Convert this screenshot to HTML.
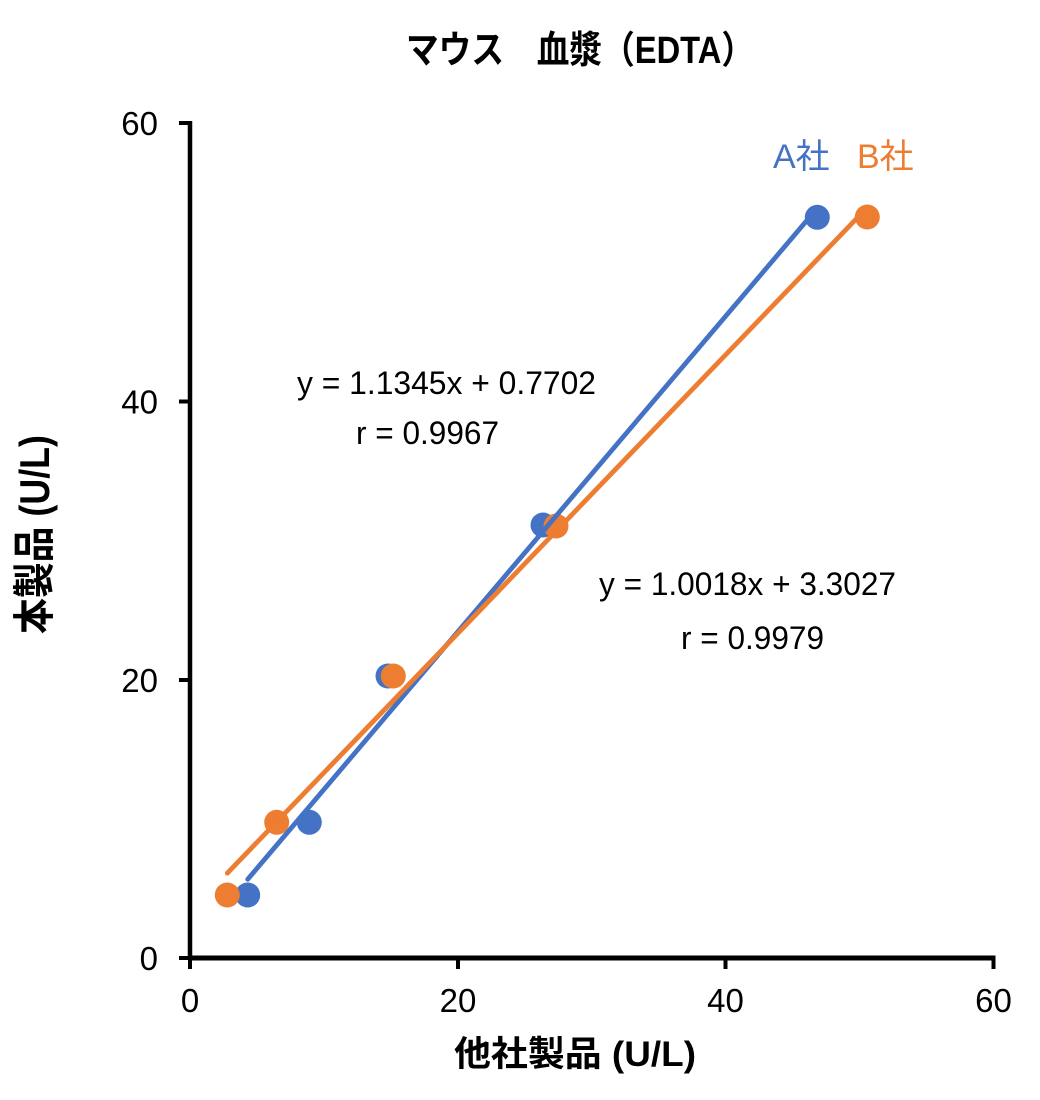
<!DOCTYPE html>
<html>
<head>
<meta charset="utf-8">
<style>
html,body{margin:0;padding:0;background:#fff;}
svg{display:block;}
text{font-family:"Liberation Sans","Noto Sans CJK JP",sans-serif;}
</style>
</head>
<body>
<svg width="1040" height="1100" viewBox="0 0 1040 1100" xmlns="http://www.w3.org/2000/svg">
  <rect x="0" y="0" width="1040" height="1100" fill="#fff"/>

  <!-- Title -->
  <text x="406" y="63" font-size="38" font-weight="bold" fill="#000" textLength="348" lengthAdjust="spacingAndGlyphs">マウス　血漿（EDTA）</text>

  <!-- Axes -->
  <line x1="190" y1="121" x2="190" y2="960" stroke="#000" stroke-width="4.5"/>
  <line x1="188" y1="958" x2="995.5" y2="958" stroke="#000" stroke-width="5"/>
  <!-- y ticks -->
  <line x1="179" y1="123" x2="190" y2="123" stroke="#000" stroke-width="4"/>
  <line x1="179" y1="401.5" x2="190" y2="401.5" stroke="#000" stroke-width="4"/>
  <line x1="179" y1="680" x2="190" y2="680" stroke="#000" stroke-width="4"/>
  <line x1="179" y1="958" x2="190" y2="958" stroke="#000" stroke-width="4"/>
  <!-- x ticks -->
  <line x1="190" y1="958" x2="190" y2="969" stroke="#000" stroke-width="4"/>
  <line x1="458" y1="958" x2="458" y2="969" stroke="#000" stroke-width="4"/>
  <line x1="725.5" y1="958" x2="725.5" y2="969" stroke="#000" stroke-width="4"/>
  <line x1="993.5" y1="958" x2="993.5" y2="969" stroke="#000" stroke-width="4"/>

  <!-- y tick labels -->
  <g font-size="33" fill="#000" text-anchor="end">
    <text x="158" y="135">60</text>
    <text x="158" y="413.5">40</text>
    <text x="158" y="692">20</text>
    <text x="158" y="970">0</text>
  </g>
  <!-- x tick labels -->
  <g font-size="33" fill="#000" text-anchor="middle">
    <text x="190" y="1012">0</text>
    <text x="458" y="1012">20</text>
    <text x="725.5" y="1012">40</text>
    <text x="993.5" y="1012">60</text>
  </g>

  <!-- Axis titles -->
  <text x="454" y="1066" font-size="35" font-weight="bold" fill="#000" textLength="242" lengthAdjust="spacingAndGlyphs">他社製品 (U/L)</text>
  <text transform="translate(49,634) rotate(-90)" x="0" y="0" font-size="42" font-weight="bold" fill="#000" textLength="199" lengthAdjust="spacingAndGlyphs">本製品 (U/L)</text>

  <!-- Blue markers (A社) -->
  <g fill="#4472C4">
    <circle cx="247.7" cy="895" r="12.5"/>
    <circle cx="309.3" cy="822.3" r="12.5"/>
    <circle cx="388" cy="676" r="12.5"/>
    <circle cx="543" cy="525" r="12.5"/>
    <circle cx="817.3" cy="217.3" r="12.5"/>
  </g>
  <!-- Orange markers (B社) -->
  <g fill="#ED7D31">
    <circle cx="227.3" cy="895" r="12.5"/>
    <circle cx="276.7" cy="822.3" r="12.5"/>
    <circle cx="393.3" cy="676" r="12.5"/>
    <circle cx="556" cy="526" r="12.5"/>
    <circle cx="867.3" cy="217" r="12.5"/>
  </g>

  <!-- Trendlines -->
  <line x1="247.7" y1="879.3" x2="817.7" y2="207.7" stroke="#4472C4" stroke-width="4.8" stroke-linecap="round"/>
  <line x1="227.3" y1="873.2" x2="867.2" y2="207.5" stroke="#ED7D31" stroke-width="4.8" stroke-linecap="round"/>

  <!-- Series labels -->
  <text x="773" y="168" font-size="34" fill="#4472C4">A社</text>
  <text x="857" y="168" font-size="34" fill="#ED7D31">B社</text>

  <!-- Equations -->
  <g font-size="32" fill="#000">
    <text x="297" y="394" textLength="299" lengthAdjust="spacingAndGlyphs">y = 1.1345x + 0.7702</text>
    <text x="356" y="444" textLength="143" lengthAdjust="spacingAndGlyphs">r = 0.9967</text>
    <text x="599" y="595" textLength="297" lengthAdjust="spacingAndGlyphs">y = 1.0018x + 3.3027</text>
    <text x="681" y="649" textLength="143" lengthAdjust="spacingAndGlyphs">r = 0.9979</text>
  </g>
</svg>
</body>
</html>
